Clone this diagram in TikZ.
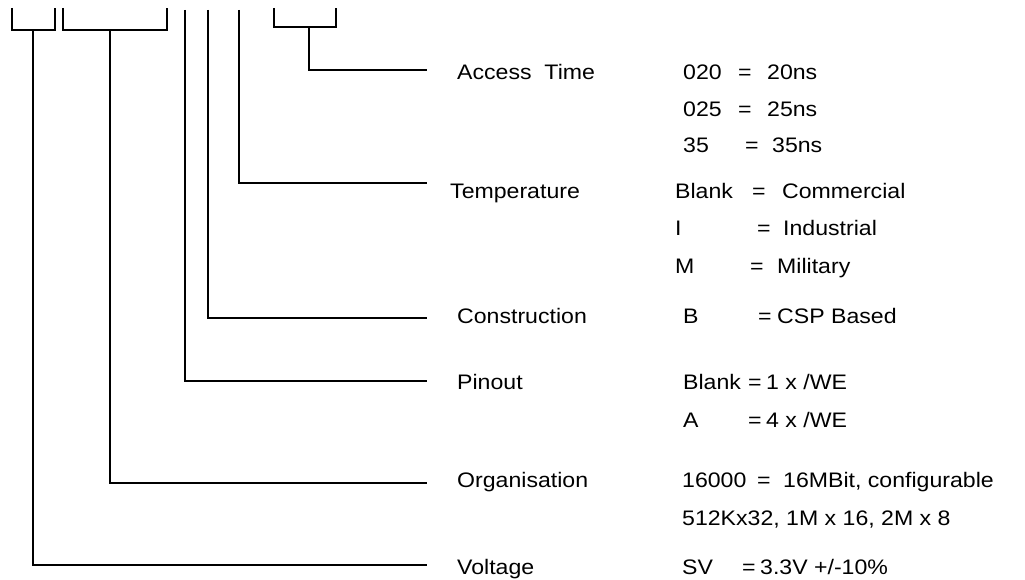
\documentclass[tikz,border=0pt]{standalone}
\usepackage{fontspec}
\setmainfont{Liberation Sans}[FakeStretch=1.1]
\usetikzlibrary{positioning}
\newcommand{\eqrow}[4]{\makebox[#1pt][l]{#2}\makebox[#3pt][l]{=}#4}

\begin{document}
\begin{tikzpicture}[
  x=1pt, y=-1pt,
  wire/.style={line width=1.8pt},
  field/.style={anchor=base west, inner sep=0pt, font=\fontsize{21}{25}\selectfont},
]
  \useasboundingbox (0,0) rectangle (1025,580);

  % brackets and ticks over the part number
  \draw[wire] (12,8) -- (12,30) -- (55,30) -- (55,8);
  \draw[wire] (63,8) -- (63,30) -- (167,30) -- (167,8);
  \draw[wire] (274,8) -- (274,27) -- (336,27) -- (336,8);
  \coordinate (volt) at (33,30);
  \coordinate (org) at (110,30);
  \coordinate (pin) at (185,10);
  \coordinate (cons) at (208,10);
  \coordinate (temp) at (239,10);
  \coordinate (acc) at (309,27);

  % ends of the leader lines
  \coordinate (accEnd) at (427,70);
  \coordinate (tempEnd) at (427,183);
  \coordinate (consEnd) at (427,318);
  \coordinate (pinEnd) at (427,381);
  \coordinate (orgEnd) at (427,483);
  \coordinate (voltEnd) at (427,565);

  % field names
  \node[field] (accName) at (457,80) {Access\ \ Time};
  \node[field] (tempName) at (450,199) {Temperature};
  \node[field] (consName) at (457,323) {Construction};
  \node[field] (pinName) at (457,389) {Pinout};
  \node[field] (orgName) at (457,487) {Organisation};
  \node[field] (voltName) at (457,574) {Voltage};

  % codes
  \node[field] (acc20) at (683,80) {\eqrow{55}{020}{29}{20ns}};
  \node[field] (acc25) at (683,117) {\eqrow{55}{025}{29}{25ns}};
  \node[field] (acc35) at (683,153) {\eqrow{62}{35}{27}{35ns}};
  \node[field] (tempC) at (675,199) {\eqrow{77}{Blank}{30}{Commercial}};
  \node[field] (tempI) at (675,236) {\eqrow{82}{I}{26}{Industrial}};
  \node[field] (tempM) at (675,273) {\eqrow{75}{M}{27}{Military}};
  \node[field] (consB) at (683,323) {\eqrow{75}{B}{19}{CSP Based}};
  \node[field] (pinBlank) at (683,389) {\eqrow{65}{Blank}{18}{1 x /WE}};
  \node[field] (pinA) at (683,427) {\eqrow{65}{A}{18}{4 x /WE}};
  \node[field] (org16) at (682,487) {\eqrow{75}{16000}{26}{16MBit, configurable}};
  \node[field] (orgCfg) at (682,525) {512Kx32, 1M x 16, 2M x 8};
  \node[field] (voltSV) at (682,574) {\eqrow{60}{SV}{18}{3.3V +/-10\%}};

  % leader lines
  \draw[wire] (acc) |- (accEnd);
  \draw[wire] (temp) |- (tempEnd);
  \draw[wire] (cons) |- (consEnd);
  \draw[wire] (pin) |- (pinEnd);
  \draw[wire] (org) |- (orgEnd);
  \draw[wire] (volt) |- (voltEnd);
\end{tikzpicture}
\end{document}
